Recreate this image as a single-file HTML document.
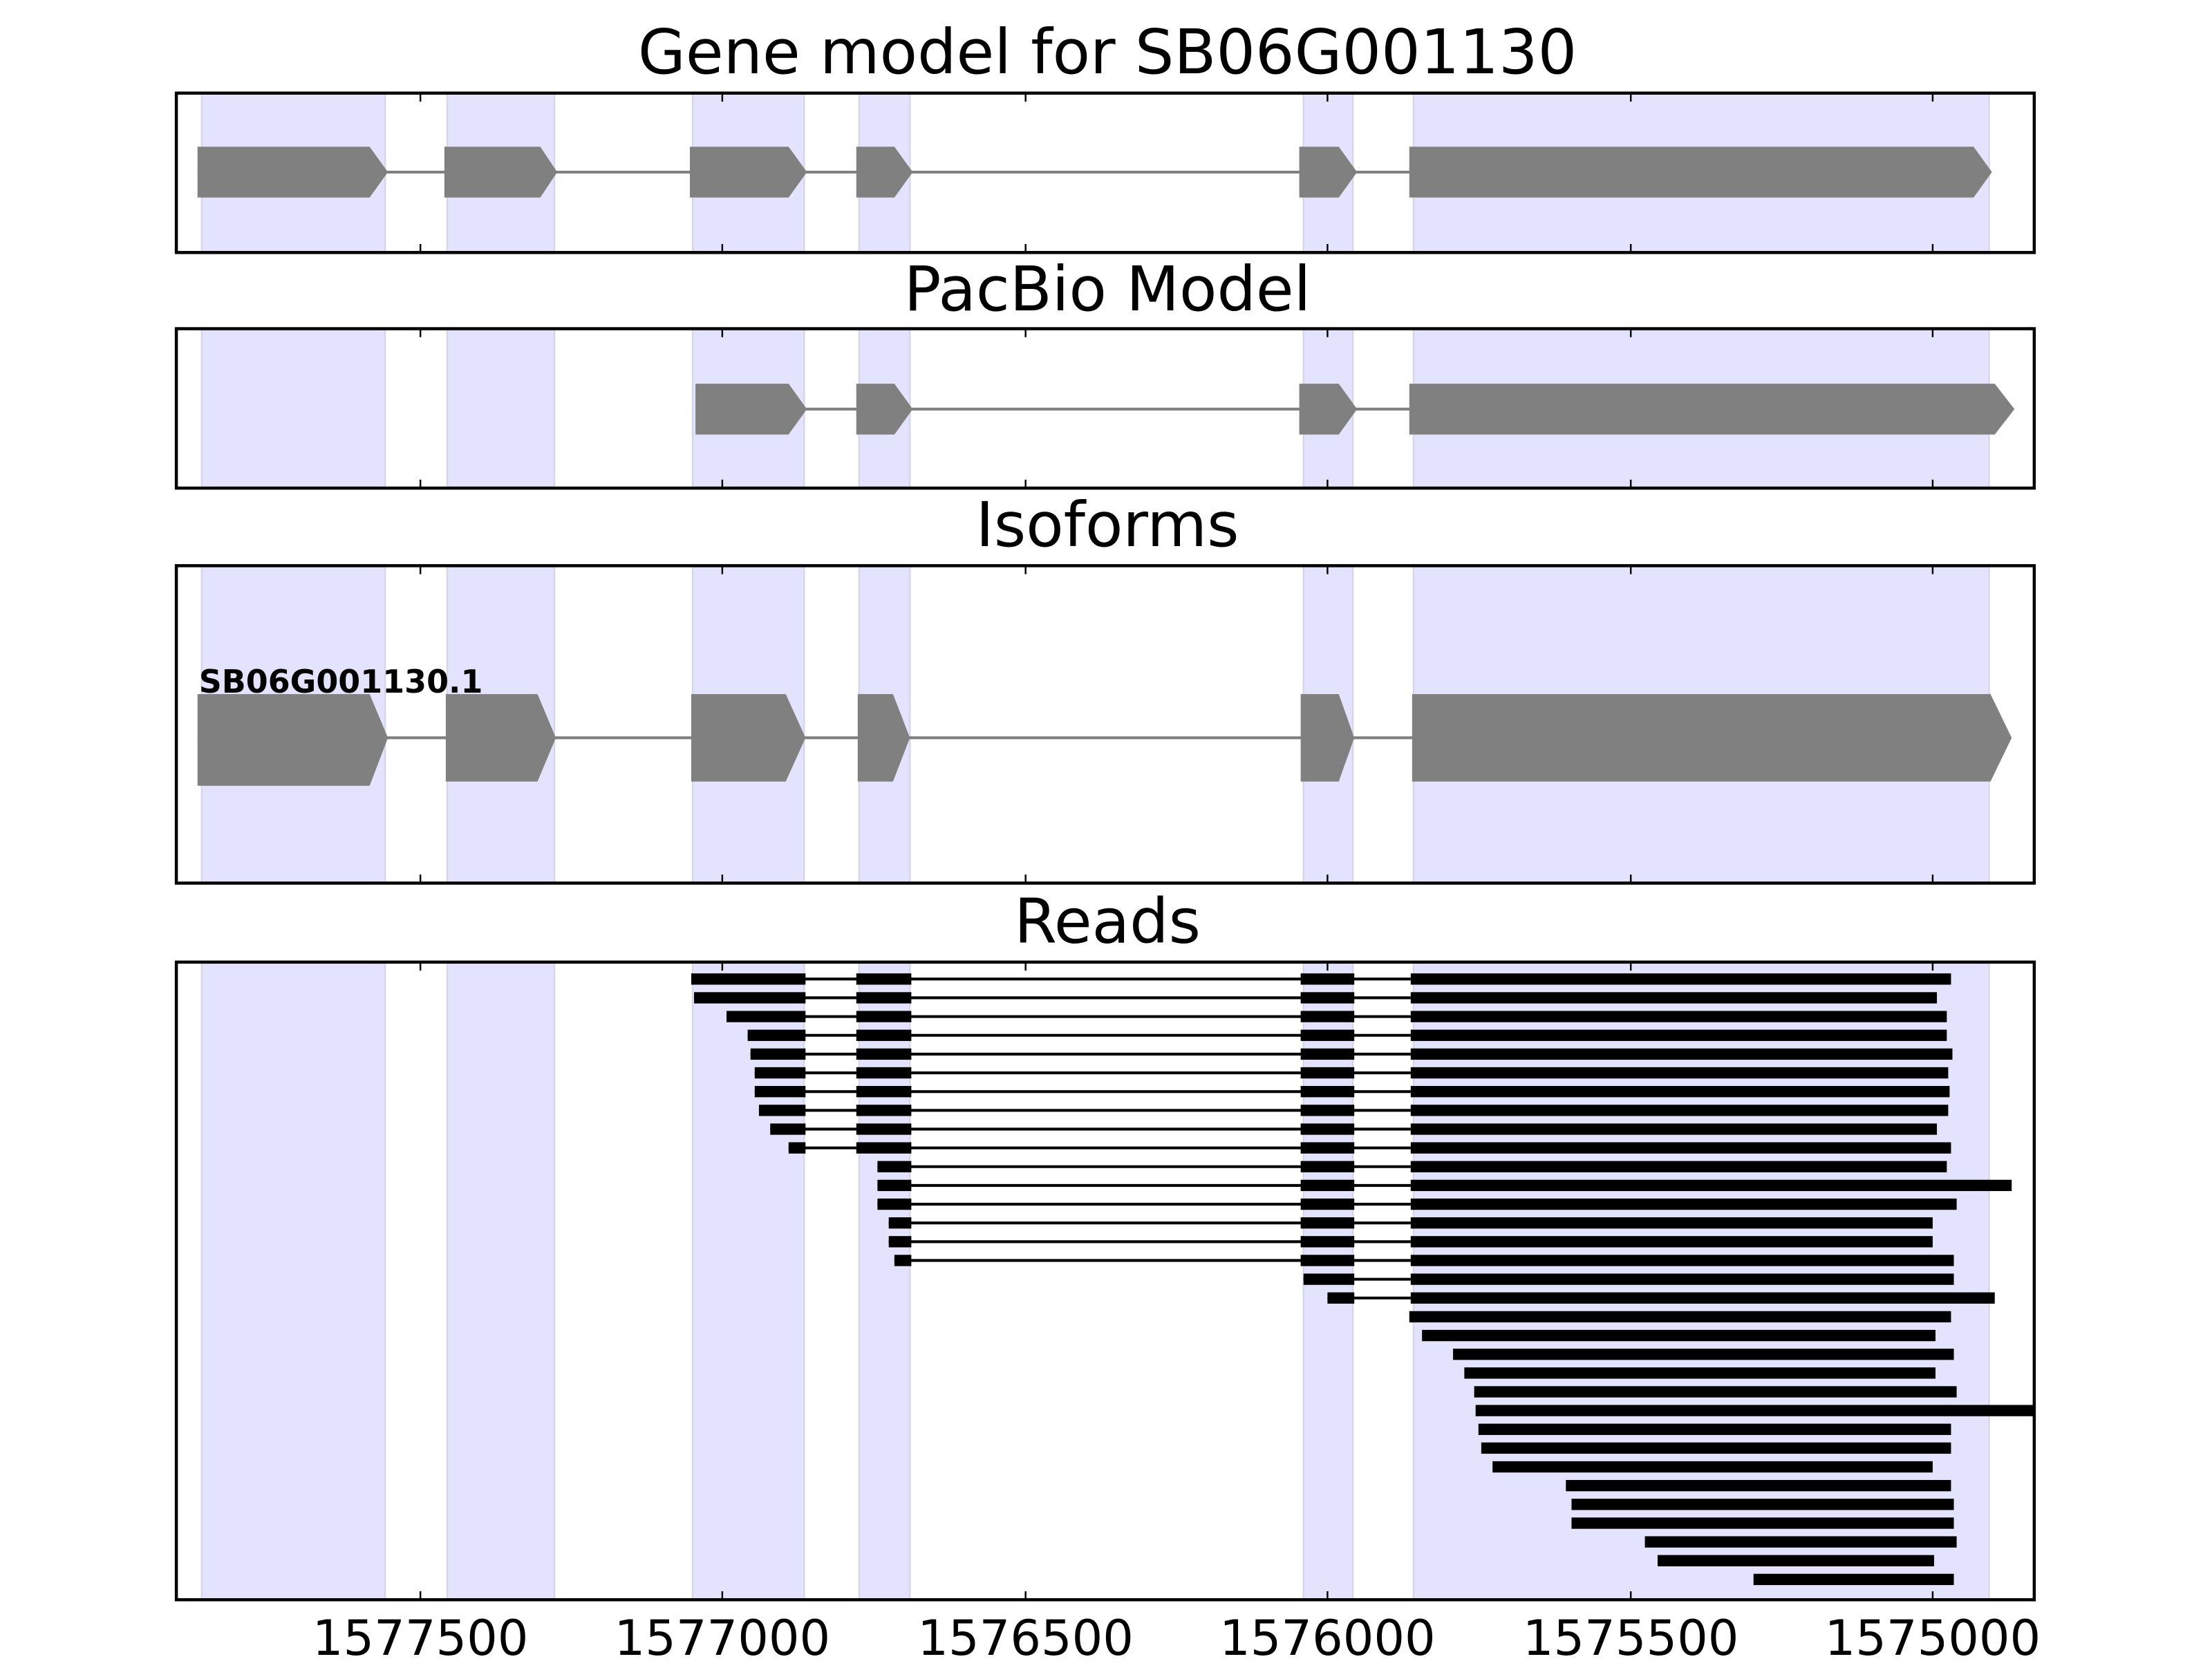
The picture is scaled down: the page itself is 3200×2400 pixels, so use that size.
<!DOCTYPE html>
<html><head><meta charset="utf-8"><style>
html,body{margin:0;padding:0;background:#fff;}
svg{display:block;}
text{font-family:"DejaVu Sans","Liberation Sans",sans-serif;}
</style></head><body>
<svg width="3200" height="2400" viewBox="0 0 1568 1176" xmlns="http://www.w3.org/2000/svg">
<defs>
<g id="shade">
<rect x="143" y="0" width="130" height="1200" fill="#e3e3fd" stroke="#d6d6ea" stroke-width="1.2"/>
<rect x="317" y="0" width="76" height="1200" fill="#e3e3fd" stroke="#d6d6ea" stroke-width="1.2"/>
<rect x="491" y="0" width="79" height="1200" fill="#e3e3fd" stroke="#d6d6ea" stroke-width="1.2"/>
<rect x="609" y="0" width="36" height="1200" fill="#e3e3fd" stroke="#d6d6ea" stroke-width="1.2"/>
<rect x="924" y="0" width="35" height="1200" fill="#e3e3fd" stroke="#d6d6ea" stroke-width="1.2"/>
<rect x="1002" y="0" width="408" height="1200" fill="#e3e3fd" stroke="#d6d6ea" stroke-width="1.2"/>
</g>
<clipPath id="c1"><rect x="125" y="66" width="1317" height="113"/></clipPath>
<clipPath id="c2"><rect x="125" y="233" width="1317" height="113"/></clipPath>
<clipPath id="c3"><rect x="125" y="401" width="1317" height="225"/></clipPath>
<clipPath id="c4"><rect x="125" y="682" width="1317" height="452"/></clipPath>
</defs>

<!-- titles -->
<text x="785" y="52" font-size="43.6" text-anchor="middle">Gene model for SB06G001130</text>
<text x="785" y="220" font-size="43.6" text-anchor="middle">PacBio Model</text>
<text x="785" y="387" font-size="43.6" text-anchor="middle">Isoforms</text>
<text x="785" y="668" font-size="43.6" text-anchor="middle">Reads</text>

<!-- Panel 1 -->
<g clip-path="url(#c1)">
<use href="#shade"/>
<line x1="140" y1="122" x2="1400" y2="122" stroke="#808080" stroke-width="2"/>
<g fill="#808080">
<polygon points="140,104 262,104 275,122 262,140 140,140"/>
<polygon points="315,104 383,104 395,122 383,140 315,140"/>
<polygon points="489,104 559,104 572,122 559,140 489,140"/>
<polygon points="607,104 634,104 647,122 634,140 607,140"/>
<polygon points="921,104 949,104 962,122 949,140 921,140"/>
<polygon points="999,104 1399,104 1412,122 1399,140 999,140"/>
</g>
</g>
<!-- Panel 2 -->
<g clip-path="url(#c2)">
<use href="#shade"/>
<line x1="493" y1="290" x2="1400" y2="290" stroke="#808080" stroke-width="2"/>
<g fill="#808080">
<polygon points="493,272 559,272 572,290 559,308 493,308"/>
<polygon points="607,272 634,272 647,290 634,308 607,308"/>
<polygon points="921,272 949,272 962,290 949,308 921,308"/>
<polygon points="999,272 1414,272 1428,290 1414,308 999,308"/>
</g>
</g>
<!-- Panel 3 -->
<g clip-path="url(#c3)">
<use href="#shade"/>
<line x1="140" y1="523" x2="1410" y2="523" stroke="#808080" stroke-width="2"/>
<g fill="#808080">
<polygon points="140,492 262,492 275,523 262,557 140,557"/>
<polygon points="316,492 381,492 394,523 381,554 316,554"/>
<polygon points="490,492 557,492 571,523 557,554 490,554"/>
<polygon points="608,492 633,492 645,523 633,554 608,554"/>
<polygon points="922,492 949,492 960,523 949,554 922,554"/>
<polygon points="1001,492 1411,492 1426,523 1411,554 1001,554"/>
</g>
<text x="141" y="491" font-size="22.5" font-weight="bold">SB06G001130.1</text>
</g>
<!-- Panel 4 -->
<g clip-path="url(#c4)">
<use href="#shade"/>
<g stroke="#000" stroke-width="2">
<line x1="490" y1="694" x2="1000" y2="694"/>
<line x1="492" y1="707.3" x2="1000" y2="707.3"/>
<line x1="515" y1="720.6" x2="1000" y2="720.6"/>
<line x1="530" y1="733.9" x2="1000" y2="733.9"/>
<line x1="532" y1="747.2" x2="1000" y2="747.2"/>
<line x1="535" y1="760.5" x2="1000" y2="760.5"/>
<line x1="535" y1="773.8" x2="1000" y2="773.8"/>
<line x1="538" y1="787.1" x2="1000" y2="787.1"/>
<line x1="546" y1="800.4" x2="1000" y2="800.4"/>
<line x1="559" y1="813.7" x2="1000" y2="813.7"/>
<line x1="622" y1="827" x2="1000" y2="827"/>
<line x1="622" y1="840.3" x2="1000" y2="840.3"/>
<line x1="622" y1="853.6" x2="1000" y2="853.6"/>
<line x1="630" y1="866.9" x2="1000" y2="866.9"/>
<line x1="630" y1="880.2" x2="1000" y2="880.2"/>
<line x1="634" y1="893.5" x2="1000" y2="893.5"/>
<line x1="924" y1="906.8" x2="1000" y2="906.8"/>
<line x1="941" y1="920.1" x2="1000" y2="920.1"/>
</g>
<g fill="#000">
<rect x="490" y="690" width="81" height="8"/>
<rect x="492" y="703.3" width="79" height="8"/>
<rect x="515" y="716.6" width="56" height="8"/>
<rect x="530" y="729.9" width="41" height="8"/>
<rect x="532" y="743.2" width="39" height="8"/>
<rect x="535" y="756.5" width="36" height="8"/>
<rect x="535" y="769.8" width="36" height="8"/>
<rect x="538" y="783.1" width="33" height="8"/>
<rect x="546" y="796.4" width="25" height="8"/>
<rect x="559" y="809.7" width="12" height="8"/>
<rect x="607" y="690" width="39" height="8"/>
<rect x="607" y="703.3" width="39" height="8"/>
<rect x="607" y="716.6" width="39" height="8"/>
<rect x="607" y="729.9" width="39" height="8"/>
<rect x="607" y="743.2" width="39" height="8"/>
<rect x="607" y="756.5" width="39" height="8"/>
<rect x="607" y="769.8" width="39" height="8"/>
<rect x="607" y="783.1" width="39" height="8"/>
<rect x="607" y="796.4" width="39" height="8"/>
<rect x="607" y="809.7" width="39" height="8"/>
<rect x="622" y="823" width="24" height="8"/>
<rect x="622" y="836.3" width="24" height="8"/>
<rect x="622" y="849.6" width="24" height="8"/>
<rect x="630" y="862.9" width="16" height="8"/>
<rect x="630" y="876.2" width="16" height="8"/>
<rect x="634" y="889.5" width="12" height="8"/>
<rect x="922" y="690" width="38" height="8"/>
<rect x="922" y="703.3" width="38" height="8"/>
<rect x="922" y="716.6" width="38" height="8"/>
<rect x="922" y="729.9" width="38" height="8"/>
<rect x="922" y="743.2" width="38" height="8"/>
<rect x="922" y="756.5" width="38" height="8"/>
<rect x="922" y="769.8" width="38" height="8"/>
<rect x="922" y="783.1" width="38" height="8"/>
<rect x="922" y="796.4" width="38" height="8"/>
<rect x="922" y="809.7" width="38" height="8"/>
<rect x="922" y="823" width="38" height="8"/>
<rect x="922" y="836.3" width="38" height="8"/>
<rect x="922" y="849.6" width="38" height="8"/>
<rect x="922" y="862.9" width="38" height="8"/>
<rect x="922" y="876.2" width="38" height="8"/>
<rect x="922" y="889.5" width="38" height="8"/>
<rect x="924" y="902.8" width="36" height="8"/>
<rect x="941" y="916.1" width="19" height="8"/>
<rect x="1000" y="690" width="383" height="8"/>
<rect x="1000" y="703.3" width="373" height="8"/>
<rect x="1000" y="716.6" width="380" height="8"/>
<rect x="1000" y="729.9" width="380" height="8"/>
<rect x="1000" y="743.2" width="384" height="8"/>
<rect x="1000" y="756.5" width="381" height="8"/>
<rect x="1000" y="769.8" width="382" height="8"/>
<rect x="1000" y="783.1" width="381" height="8"/>
<rect x="1000" y="796.4" width="373" height="8"/>
<rect x="1000" y="809.7" width="383" height="8"/>
<rect x="1000" y="823" width="380" height="8"/>
<rect x="1000" y="836.3" width="426" height="8"/>
<rect x="1000" y="849.6" width="387" height="8"/>
<rect x="1000" y="862.9" width="370" height="8"/>
<rect x="1000" y="876.2" width="370" height="8"/>
<rect x="1000" y="889.5" width="385" height="8"/>
<rect x="1000" y="902.8" width="385" height="8"/>
<rect x="1000" y="916.1" width="414" height="8"/>
<rect x="999" y="929.4" width="384" height="8"/>
<rect x="1008" y="942.7" width="364" height="8"/>
<rect x="1030" y="956" width="355" height="8"/>
<rect x="1038" y="969.3" width="334" height="8"/>
<rect x="1045" y="982.6" width="342" height="8"/>
<rect x="1046" y="995.9" width="400" height="8"/>
<rect x="1048" y="1009.2" width="335" height="8"/>
<rect x="1050" y="1022.5" width="333" height="8"/>
<rect x="1058" y="1035.8" width="312" height="8"/>
<rect x="1110" y="1049.1" width="273" height="8"/>
<rect x="1114" y="1062.4" width="271" height="8"/>
<rect x="1114" y="1075.7" width="271" height="8"/>
<rect x="1166" y="1089" width="221" height="8"/>
<rect x="1175" y="1102.3" width="196" height="8"/>
<rect x="1243" y="1115.6" width="142" height="8"/>
</g>
</g>

<g fill="none" stroke="#000" stroke-width="2.2">
<rect x="125" y="66" width="1317" height="113"/>
<rect x="125" y="233" width="1317" height="113"/>
<rect x="125" y="401" width="1317" height="225"/>
<rect x="125" y="682" width="1317" height="452"/>
</g>
<g stroke="#000" stroke-width="1.2">
<path d="M298 66v6M512 66v6M727 66v6M941 66v6M1156 66v6M1370 66v6 M298 179v-6M512 179v-6M727 179v-6M941 179v-6M1156 179v-6M1370 179v-6"/>
<path d="M298 233v6M512 233v6M727 233v6M941 233v6M1156 233v6M1370 233v6 M298 346v-6M512 346v-6M727 346v-6M941 346v-6M1156 346v-6M1370 346v-6"/>
<path d="M298 401v6M512 401v6M727 401v6M941 401v6M1156 401v6M1370 401v6 M298 626v-6M512 626v-6M727 626v-6M941 626v-6M1156 626v-6M1370 626v-6"/>
<path d="M298 682v6M512 682v6M727 682v6M941 682v6M1156 682v6M1370 682v6 M298 1134v-6M512 1134v-6M727 1134v-6M941 1134v-6M1156 1134v-6M1370 1134v-6"/>
</g>
<g font-size="34.4" text-anchor="middle">
<text x="298" y="1173">1577500</text>
<text x="512" y="1173">1577000</text>
<text x="727" y="1173">1576500</text>
<text x="941" y="1173">1576000</text>
<text x="1156" y="1173">1575500</text>
<text x="1370" y="1173">1575000</text>
</g>
</svg>
</body></html>
